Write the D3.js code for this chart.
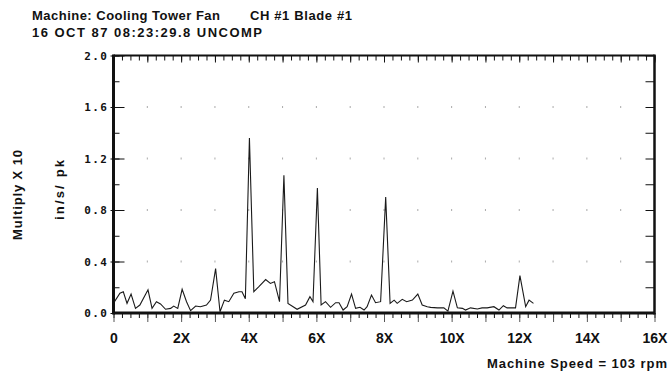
<!DOCTYPE html>
<html>
<head>
<meta charset="utf-8">
<script src="https://cdn.jsdelivr.net/npm/d3@7"></script>
<style>
  html, body { margin: 0; padding: 0; background: #fff; }
  svg { display: block; }
  .title { font-family: "Liberation Sans", Arial, sans-serif; font-weight: bold; font-size: 13px; fill: #111; }
  .xlab { font-family: "Liberation Sans", Arial, sans-serif; font-weight: bold; font-size: 14px; fill: #111; }
  .ylab { font-family: "DejaVu Sans Mono", monospace; font-weight: bold; font-size: 11px; letter-spacing: 1.5px; fill: #111; }
</style>
</head>
<body>
<svg id="chart" width="670" height="374"></svg>
<script>
// Spectrum trace: frequency in orders of running speed, amplitude in in/s pk (x10)
const orders = [0.03,0.19,0.29,0.40,0.52,0.65,0.78,
  1.02,1.14,1.27,1.39,1.54,1.69,1.78,1.90,
  2.03,2.16,2.28,2.43,2.57,2.75,2.87,
  3.02,3.15,3.28,3.41,3.56,3.71,3.80,3.90,
  4.02,4.15,4.30,4.50,4.64,4.76,4.91,
  5.04,5.16,5.43,5.68,5.81,5.90,
  6.03,6.14,6.27,6.42,6.57,6.67,6.79,6.91,
  7.04,7.16,7.29,7.41,7.50,7.63,7.75,7.90,
  8.05,8.18,8.30,8.39,8.54,8.67,8.84,
  9.00,9.13,9.28,9.38,9.58,9.77,9.89,
  10.04,10.17,10.32,10.41,10.56,10.76,10.90,
  11.05,11.25,11.40,11.53,11.64,11.89,
  12.02,12.19,12.29,12.42];
const amplitudes = [0.088,0.153,0.165,0.075,0.147,0.036,0.062,
  0.18,0.036,0.088,0.07,0.029,0.036,0.054,0.036,
  0.184,0.088,0.018,0.054,0.049,0.062,0.10,
  0.345,0.01,0.10,0.088,0.153,0.165,0.165,0.11,
  1.36,0.165,0.204,0.26,0.23,0.243,0.088,
  1.07,0.075,0.029,0.062,0.127,0.088,
  0.97,0.062,0.088,0.044,0.08,0.08,0.023,0.049,
  0.147,0.036,0.044,0.023,0.049,0.14,0.08,0.088,
  0.90,0.075,0.10,0.075,0.106,0.088,0.10,
  0.147,0.062,0.049,0.044,0.04,0.04,0.015,
  0.17,0.04,0.036,0.023,0.04,0.031,0.04,
  0.04,0.049,0.023,0.057,0.04,0.04,
  0.29,0.049,0.10,0.075];

const xLabelOrders = [0,2,4,6,8,10,12,14,16];
const yLabelValues = [0.0,0.4,0.8,1.2,1.6,2.0];

const headerLine1 = "Machine: Cooling Tower Fan";
const headerChannel = "CH #1 Blade #1";
const headerLine2 = "16 OCT 87 08:23:29.8 UNCOMP";
const yTitleOuter = "Multiply X 10";
const yTitleInner = "in/s/ pk";
const speedNote = "Machine Speed  =  103 rpm";

const svg = d3.select("#chart");
const plotLeft = 113.5, plotRight = 654.5, plotTop = 55.5, plotBottom = 313;

const x = d3.scaleLinear().domain([0, 16]).range([plotLeft, plotRight]);
const y = d3.scaleLinear().domain([0, 2]).range([plotBottom, plotTop]);

// faint grid dots at each order and each labelled amplitude
const gridG = svg.append("g");
d3.range(1, 16).forEach(o => {
  [0.4, 0.8, 1.2, 1.6].forEach(v => {
    gridG.append("rect").attr("x", x(o) - 0.5).attr("y", y(v) - 1)
      .attr("width", 1).attr("height", 2).attr("fill", "#aaa");
  });
});

function strip(g) { g.select(".domain").remove(); g.selectAll("line").attr("stroke", "#111"); }

// bottom ticks (outward)
svg.append("g").attr("transform", `translate(0,${plotBottom})`)
  .call(d3.axisBottom(x).tickValues(d3.range(0, 16.01, 0.25)).tickSize(5).tickFormat(""))
  .call(strip);
svg.append("g").attr("transform", `translate(0,${plotBottom})`)
  .call(d3.axisBottom(x).tickValues(d3.range(0, 17, 1)).tickSize(9).tickFormat(""))
  .call(g => { strip(g); g.selectAll("line").attr("stroke", "#555"); });
// bottom labels
svg.append("g").attr("transform", `translate(0,${plotBottom})`)
  .call(d3.axisBottom(x).tickValues(xLabelOrders).tickSize(0).tickPadding(25)
    .tickFormat(d => d === 0 ? "0" : d + "X"))
  .call(g => { g.select(".domain").remove(); g.selectAll("text").attr("class", "xlab").attr("dy", "0.35em"); });

// top ticks (pointing into the plot)
svg.append("g").attr("transform", `translate(0,${plotTop})`)
  .call(d3.axisBottom(x).tickValues(d3.range(0, 16.01, 0.25)).tickSize(5).tickFormat(""))
  .call(strip);
svg.append("g").attr("transform", `translate(0,${plotTop})`)
  .call(d3.axisBottom(x).tickValues(d3.range(0, 17, 1)).tickSize(7).tickFormat(""))
  .call(strip);

// left ticks (inward) and labels
svg.append("g").attr("transform", `translate(${plotLeft},0)`)
  .call(d3.axisRight(y).tickValues(d3.range(0, 2.01, 0.2)).tickSize(6).tickFormat(""))
  .call(strip);
svg.append("g").attr("transform", `translate(${plotLeft},0)`)
  .call(d3.axisRight(y).tickValues(yLabelValues).tickSize(11).tickFormat(""))
  .call(strip);
svg.append("g").attr("transform", `translate(${plotLeft},0)`)
  .call(d3.axisLeft(y).tickValues(yLabelValues).tickSize(3).tickPadding(2).tickFormat(d3.format(".1f")))
  .call(g => { strip(g); g.selectAll("text").attr("class", "ylab"); });

// right ticks (inward)
svg.append("g").attr("transform", `translate(${plotRight},0)`)
  .call(d3.axisLeft(y).tickValues(d3.range(0, 2.01, 0.2)).tickSize(9).tickFormat(""))
  .call(strip);

// frame
svg.append("line").attr("x1", plotLeft).attr("x2", plotRight).attr("y1", plotTop).attr("y2", plotTop)
  .attr("stroke", "#111").attr("stroke-width", 2);
svg.append("line").attr("x1", plotLeft).attr("x2", plotLeft).attr("y1", plotTop - 1).attr("y2", plotBottom + 1.5)
  .attr("stroke", "#111").attr("stroke-width", 3);
svg.append("line").attr("x1", plotRight).attr("x2", plotRight).attr("y1", plotTop - 1).attr("y2", plotBottom + 1.5)
  .attr("stroke", "#111").attr("stroke-width", 2.5);
svg.append("line").attr("x1", plotLeft).attr("x2", plotRight).attr("y1", plotBottom).attr("y2", plotBottom)
  .attr("stroke", "#111").attr("stroke-width", 3);

// spectrum trace
const line = d3.line().x((d, i) => x(orders[i])).y(d => y(d));
svg.append("path").datum(amplitudes)
  .attr("fill", "none").attr("stroke", "#1a1a1a").attr("stroke-width", 1.1)
  .attr("stroke-linejoin", "miter").attr("d", line);

// header text
function spaced(sel, len) { return sel.attr("textLength", len).attr("lengthAdjust", "spacing"); }
spaced(svg.append("text").attr("class", "title").attr("x", 32).attr("y", 20).text(headerLine1), 188);
spaced(svg.append("text").attr("class", "title").attr("x", 250).attr("y", 20).text(headerChannel), 102);
spaced(svg.append("text").attr("class", "title").attr("x", 32).attr("y", 37).text(headerLine2), 230);

// vertical axis titles
spaced(svg.append("text").attr("class", "title").attr("font-size", "12.5px")
  .attr("transform", "translate(22,240) rotate(-90)").text(yTitleOuter), 90);
spaced(svg.append("text").attr("class", "title").attr("font-size", "12.5px")
  .attr("transform", "translate(64,220) rotate(-90)").text(yTitleInner), 60);

// speed note
spaced(svg.append("text").attr("class", "title").attr("font-size", "13px")
  .attr("x", 487).attr("y", 368).text(speedNote), 180);
</script>
</body>
</html>
